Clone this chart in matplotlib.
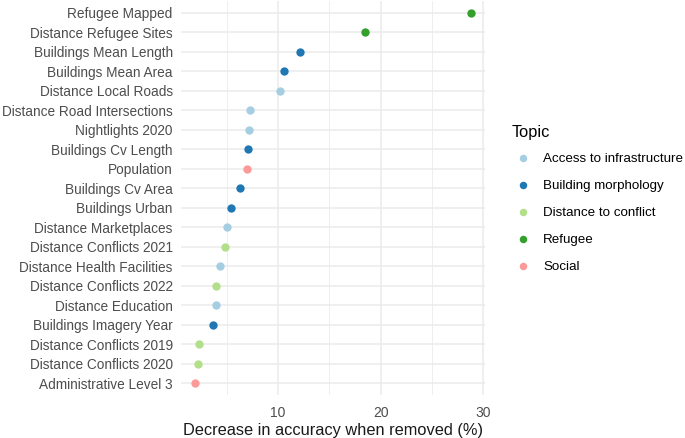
import matplotlib
matplotlib.use("Agg")
import matplotlib.pyplot as plt

features = [
    "Refugee Mapped", "Distance Refugee Sites", "Buildings Mean Length",
    "Buildings Mean Area", "Distance Local Roads", "Distance Road Intersections",
    "Nightlights 2020", "Buildings Cv Length", "Population", "Buildings Cv Area",
    "Buildings Urban", "Distance Marketplaces", "Distance Conflicts 2021",
    "Distance Health Facilities", "Distance Conflicts 2022", "Distance Education",
    "Buildings Imagery Year", "Distance Conflicts 2019", "Distance Conflicts 2020",
    "Administrative Level 3",
]
decrease = [28.8, 18.5, 12.1, 10.55, 10.2, 7.3, 7.2, 7.05, 6.95, 6.3,
            5.45, 5.05, 4.8, 4.35, 3.95, 3.95, 3.65, 2.3, 2.2, 1.9]
topic = ["Refugee", "Refugee", "Building morphology", "Building morphology",
         "Access to infrastructure", "Access to infrastructure",
         "Access to infrastructure", "Building morphology", "Social",
         "Building morphology", "Building morphology", "Access to infrastructure",
         "Distance to conflict", "Access to infrastructure", "Distance to conflict",
         "Access to infrastructure", "Building morphology", "Distance to conflict",
         "Distance to conflict", "Social"]

topics = ["Access to infrastructure", "Building morphology",
          "Distance to conflict", "Refugee", "Social"]
topic_colors = ["#A6CEE3", "#1F78B4", "#B2DF8A", "#33A02C", "#FB9A99"]

plt.rcParams["font.family"] = ["Liberation Sans", "DejaVu Sans"]

fig = plt.figure(figsize=(6.85, 4.38), dpi=100)
ax = fig.add_axes([181 / 685, 1 - 394.7 / 438, (485 - 181) / 685, (394.7 - 1.3) / 438])

n = len(features)
ypos = [n - 1 - i for i in range(n)]

for t, c in zip(topics, topic_colors):
    xs = [d for d, tp in zip(decrease, topic) if tp == t]
    ys = [y for y, tp in zip(ypos, topic) if tp == t]
    ax.scatter(xs, ys, s=36, color=c, label=t, zorder=3, linewidths=0)

ax.set_xlim(0.55, 30.15)
ax.set_ylim(-0.6, n - 1 + 0.6)
ax.set_yticks(ypos)
ax.set_yticklabels(features)
ax.set_xticks([10, 20, 30])
ax.set_xticks([5, 15, 25], minor=True)

ax.grid(True, which="major", color="#EBEBEB", linewidth=1.1)
ax.grid(True, which="minor", axis="x", color="#EBEBEB", linewidth=0.6)
ax.set_axisbelow(True)
for s in ax.spines.values():
    s.set_visible(False)
ax.tick_params(which="both", length=0)
ax.tick_params(axis="y", labelsize=9.8, labelcolor="#4D4D4D", pad=6)
ax.tick_params(axis="x", labelsize=10, labelcolor="#4D4D4D", pad=8)
ax.set_xlabel("Decrease in accuracy when removed (%)", fontsize=11.8, color="#1A1A1A", labelpad=2)

leg = fig.legend(loc="upper left", bbox_to_anchor=(500 / 685, 1 - 113 / 438),
                 title="Topic", frameon=False, fontsize=9.6, title_fontsize=11.8,
                 handletextpad=0.75, handlelength=1.6, labelspacing=1.1,
                 markerscale=0.9)
leg._legend_box.align = "left"
leg._legend_box.sep = 9

fig.savefig("out.png", dpi=100)
